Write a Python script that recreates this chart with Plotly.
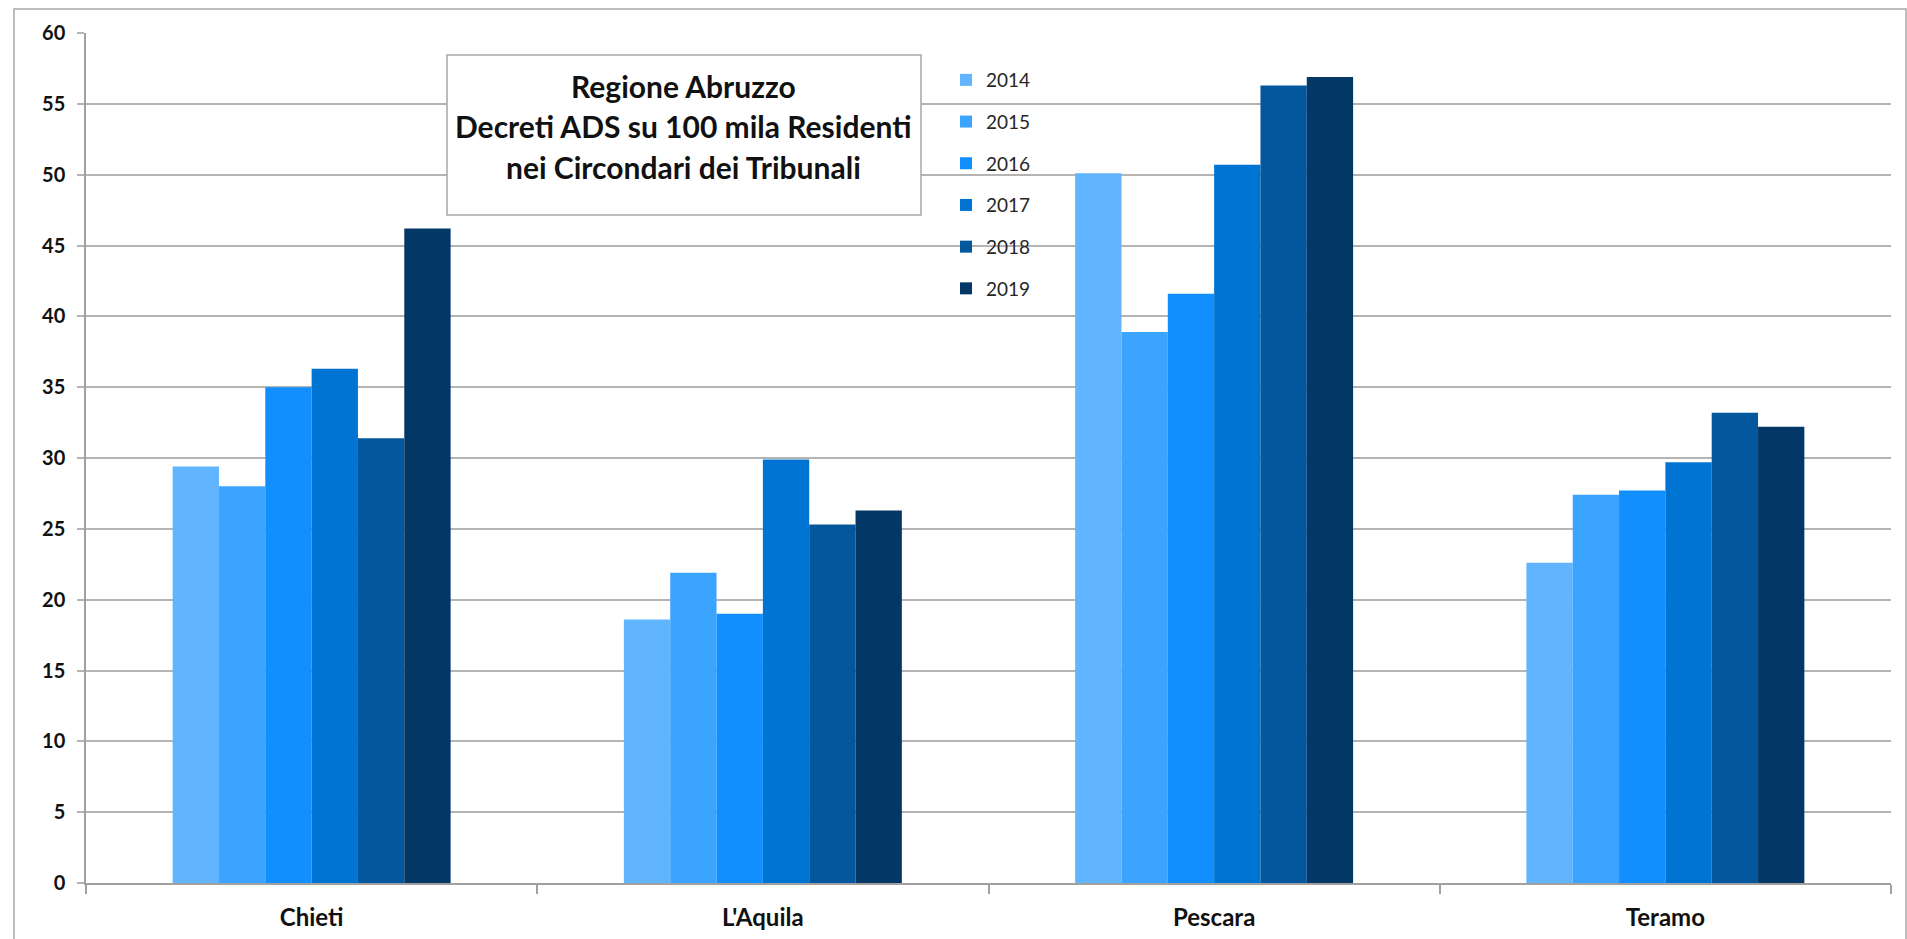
import plotly.graph_objects as go

categories = ["Chieti", "L'Aquila", "Pescara", "Teramo"]
years = ["2014", "2015", "2016", "2017", "2018", "2019"]
values = {
    "2014": [29.4, 18.6, 50.1, 22.6],
    "2015": [28.0, 21.9, 38.9, 27.4],
    "2016": [35.0, 19.0, 41.6, 27.7],
    "2017": [36.3, 29.9, 50.7, 29.7],
    "2018": [31.4, 25.3, 56.3, 33.2],
    "2019": [46.2, 26.3, 56.9, 32.2],
}
colors = ["#61b5ff", "#3ba4ff", "#118fff", "#0074d2", "#02579d", "#033866"]
title_lines = ["Regione Abruzzo", "Decreti ADS su 100 mila Residenti", "nei Circondari dei Tribunali"]

W, H = 1907, 939
L, R, T, B = 86, 16, 33, 56
pw, ph = W - L - R, H - T - B

def px(x):
    return (x - L) / pw

def py(y):
    return (H - B - y) / ph

fig = go.Figure()
for yr, c in zip(years, colors):
    fig.add_trace(go.Bar(
        x=categories, y=values[yr], name=yr, legendgroup=yr,
        marker=dict(color=c, line=dict(width=0)),
    ))

grid = "#b4b4b4"
axis_c = "#a0a0a0"
fig.update_layout(
    width=W, height=H,
    margin=dict(l=L, r=R, t=T, b=B, autoexpand=False),
    paper_bgcolor="white", plot_bgcolor="white",
    barmode="group", bargap=0.384, bargroupgap=0,
    font=dict(family="Lato", color="#111111"),
    showlegend=True,
    legend=dict(
        x=px(946), y=py(61), xanchor="left", yanchor="top",
        bgcolor="rgba(0,0,0,0)", font=dict(family="Lato", size=19, color="#262626"),
        tracegroupgap=14, itemwidth=30,
    ),
    xaxis=dict(
        showgrid=False, showline=True, linecolor=axis_c, linewidth=1.5,
        ticks="outside", tickson="boundaries", ticklen=9, tickcolor=axis_c, tickwidth=1.5,
        tickfont=dict(family="Lato", size=24, weight="bold", color="#111111"),
        ticklabelstandoff=12,
    ),
    yaxis=dict(
        range=[0, 60], dtick=5, tick0=0,
        showgrid=True, gridcolor=grid, gridwidth=1.5,
        showline=True, linecolor=axis_c, linewidth=1.5, zeroline=False,
        ticks="outside", ticklen=7, tickcolor=grid, tickwidth=1.5,
        tickfont=dict(family="Lato", size=20, weight="bold", color="#111111"),
        ticklabelstandoff=8,
    ),
)

# outer chart-area frame
fig.add_shape(type="rect", xref="paper", yref="paper",
              x0=px(14), x1=px(1906), y0=py(960), y1=py(9),
              line=dict(color="#a8a8a8", width=1.5), fillcolor="rgba(0,0,0,0)", layer="below")

# title box
fig.add_shape(type="rect", xref="paper", yref="paper",
              x0=px(447), x1=px(921), y0=py(215), y1=py(55),
              line=dict(color="#a6a6a6", width=1.5), fillcolor="white", layer="above")
for i, line in enumerate(title_lines):
    fig.add_annotation(
        xref="paper", yref="paper", x=px(683), y=py(86 + 40.5 * i),
        text=line, showarrow=False, xanchor="center", yanchor="middle",
        font=dict(family="Lato", size=30, weight="bold", color="#111111"),
    )

fig.write_html("out.html", config={"displayModeBar": False},
               post_script="document.body.style.margin='0';document.body.style.overflow='hidden';")
